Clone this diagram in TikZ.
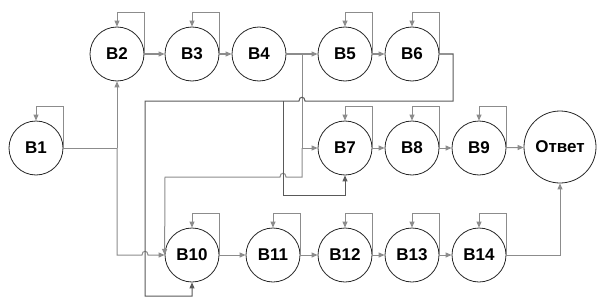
\documentclass[tikz,border=0pt]{standalone}
\usepackage{fontspec}
\setmainfont{Liberation Sans}
\usetikzlibrary{arrows.meta,calc}
\begin{document}
\begin{tikzpicture}[x=1pt,y=-1pt,
  qnode/.style={circle,draw=black!85,line width=0.8pt,minimum size=54pt,inner sep=0pt,font=\bfseries\fontsize{17}{20}\selectfont},
  conn/.style={draw=black!45,line width=1pt},
  arr/.style={conn,-{Triangle[length=6pt,width=5pt]}},
  darr/.style={arr,draw=black!65}]
\useasboundingbox (0,0) rectangle (604,305);
\node[qnode] (B1) at (36,148) {В1};
\node[qnode] (B2) at (117,54) {В2};
\node[qnode] (B3) at (192,54) {В3};
\node[qnode] (B4) at (259,54) {В4};
\node[qnode] (B5) at (345,54) {В5};
\node[qnode] (B6) at (412,54) {В6};
\node[qnode] (B7) at (345,148) {В7};
\node[qnode] (B8) at (412,148) {В8};
\node[qnode] (B9) at (479,148) {В9};
\node[qnode,minimum size=72pt] (O) at (560,147) {Ответ};
\node[qnode] (B10) at (192,255) {В10};
\node[qnode] (B11) at (273,255) {В11};
\node[qnode] (B12) at (345,255) {В12};
\node[qnode] (B13) at (412,255) {В13};
\node[qnode] (B14) at (479,255) {В14};
% self loops
\foreach \n in {B1,B2,B3,B5,B6,B7,B8,B9,B10,B11,B12,B13,B14}{
  \draw[arr] (\n.east) -- ($(\n.east |- \n.north)+(0,-14)$) -- ($(\n.north)+(0,-14)$) -- (\n.north);
}
% chains
\draw[arr] (B2) -- (B3);
\draw[arr] (B3) -- (B4);
\draw[arr] (B5) -- (B6);
\draw[arr] (B7) -- (B8);
\draw[arr] (B8) -- (B9);
\draw[arr] (B9) -- (O);
\draw[arr] (B10) -- (B11);
\draw[arr] (B11) -- (B12);
\draw[arr] (B12) -- (B13);
\draw[arr] (B13) -- (B14);
% B1 bus
\coordinate (j1) at (117,148);
\draw[conn] (B1.east) -- (j1);
\draw[arr] (j1) -- (B2.south);
\draw[arr] (j1) -- (j1 |- B10.west) -- (142,255) .. controls (142,250) and (148,250) .. (148,255) -- (B10.west);
% B4 bus
\coordinate (j4) at (302,54);
\draw[conn] (B4.east) -- (j4);
\draw[arr] (j4) -- (B5.west);
\draw[arr] (j4) -- (j4 |- B7.west) -- (B7.west);
\draw[arr] (j4 |- B7.west) -- (302,177) -- (286,177) .. controls (286,172) and (280,172) .. (280,177) -- (165,177) -- (B10.west);
% B6 loop back
\coordinate (j6) at (453,54);
\draw[darr] (B6.east) -- (j6) -- (453,101) -- (305,101) .. controls (305,96) and (299,96) .. (299,101) -- (145,101) -- (145,296) -- (B10.south |- 0,296) -- (B10.south);
\draw[darr] (283,101) -- (283,195) -- (B7.south |- 0,195) -- (B7.south);
% B14 to answer
\draw[arr] (B14.east) -- (O.south |- B14.east) -- (O.south);
\end{tikzpicture}
\end{document}
